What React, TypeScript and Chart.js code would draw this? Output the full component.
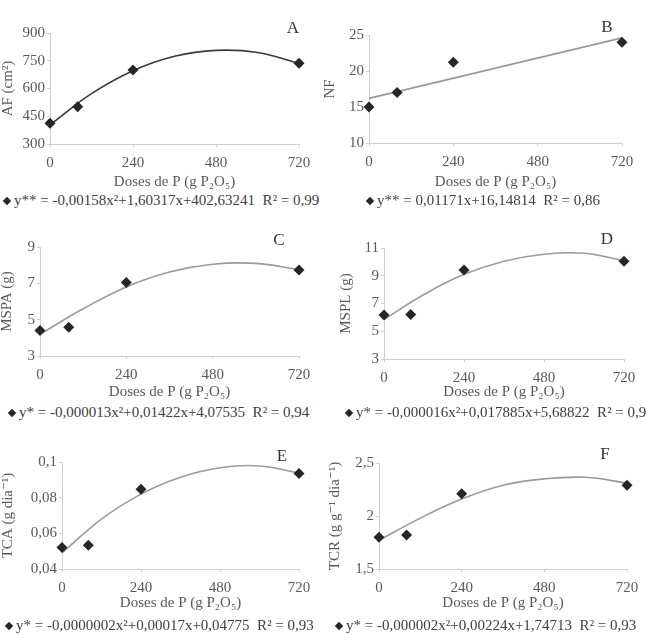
import React, { useEffect, useRef } from "react";
import { Chart, registerables } from "chart.js";
Chart.register(...registerables);

const FONT = "'Liberation Serif', 'DejaVu Serif', serif";
const TEXT = "#595959";
const AXIS = "#d0d0d0";
const MARK = "#262626";

const DOSES = [0, 80, 240, 720];
const X_TICKS = [0, 240, 480, 720];
const FIT_X = [0, 120, 240, 360, 480, 600, 720];
const LINE_X = [0, 720];

const AF = [412, 502, 700, 736];
const AF_FIT = [403, 572, 696, 774, 806, 795, 736];
const NF = [15.0, 17.0, 21.2, 24.0];
const NF_FIT = [16.2, 24.6];
const MSPA = [4.4, 4.58, 7.05, 7.73];
const MSPA_FIT = [4.2, 5.6, 6.8, 7.62, 8.05, 8.1, 7.75];
const MSPL = [6.17, 6.2, 9.41, 10.05];
const MSPL_FIT = [5.85, 7.65, 9.1, 10.05, 10.55, 10.62, 10.1];
const TCA = [0.052, 0.0533, 0.0847, 0.0935];
const TCA_FIT = [0.049, 0.068, 0.082, 0.0915, 0.0968, 0.0978, 0.0938];
const TCR = [1.8, 1.82, 2.21, 2.29];
const TCR_FIT = [1.77, 1.98, 2.16, 2.29, 2.35, 2.365, 2.31];

const Y_TITLES = ["AF (cm²)", "NF", "MSPA (g)", "MSPL (g)", "TCA (g dia⁻¹)", "TCR (g g⁻¹ dia⁻¹)"];
const X_TITLE = "Doses de P (g P₂O₅)";
const LETTERS = ["A", "B", "C", "D", "E", "F"];
const EQUATIONS = [
  "y** = -0,00158x²+1,60317x+402,63241  R² = 0,99",
  "y** = 0,01171x+16,14814  R² = 0,86",
  "y* = -0,000013x²+0,01422x+4,07535  R² = 0,94",
  "y* = -0,000016x²+0,017885x+5,68822  R² = 0,92",
  "y* = -0,0000002x²+0,00017x+0,04775  R² = 0,93",
  "y* = -0,000002x²+0,00224x+1,74713  R² = 0,93",
];

type Box = { x: number; y: number; w: number; h: number };
type Area = { l: number; t: number; r: number; b: number };
type Panel = {
  canvas: Box;
  plot: Area;
  yMin: number;
  yMax: number;
  yStep: number;
  yTitle: string;
  yTitleX: number;
  points: number[];
  fitX: number[];
  fit: number[];
  fitColor: string;
  letter: string;
  letterPos: { x: number; y: number };
  eq: string;
  eqPos: { x: number; y: number };
};

const PANELS: Panel[] = [
  {
    canvas: { x: 0, y: 0, w: 320, h: 191 }, plot: { l: 50, t: 33, r: 299, b: 144 },
    yMin: 300, yMax: 900, yStep: 150, yTitle: Y_TITLES[0], yTitleX: 8,
    points: AF, fitX: FIT_X, fit: AF_FIT, fitColor: "#3a3a3a",
    letter: LETTERS[0], letterPos: { x: 293, y: 28 }, eq: EQUATIONS[0], eqPos: { x: 2, y: 200 },
  },
  {
    canvas: { x: 320, y: 0, w: 327, h: 191 }, plot: { l: 369, t: 35, r: 622, b: 143 },
    yMin: 10, yMax: 25, yStep: 5, yTitle: Y_TITLES[1], yTitleX: 330,
    points: NF, fitX: LINE_X, fit: NF_FIT, fitColor: "#9a9a9a",
    letter: LETTERS[1], letterPos: { x: 607, y: 27 }, eq: EQUATIONS[1], eqPos: { x: 365, y: 200 },
  },
  {
    canvas: { x: 0, y: 210, w: 320, h: 191 }, plot: { l: 40, t: 247, r: 299, b: 356 },
    yMin: 3, yMax: 9, yStep: 2, yTitle: Y_TITLES[2], yTitleX: 7,
    points: MSPA, fitX: FIT_X, fit: MSPA_FIT, fitColor: "#9a9a9a",
    letter: LETTERS[2], letterPos: { x: 279, y: 240 }, eq: EQUATIONS[2], eqPos: { x: 7, y: 412 },
  },
  {
    canvas: { x: 320, y: 210, w: 327, h: 191 }, plot: { l: 384, t: 248, r: 624, b: 359 },
    yMin: 3, yMax: 11, yStep: 2, yTitle: Y_TITLES[3], yTitleX: 346,
    points: MSPL, fitX: FIT_X, fit: MSPL_FIT, fitColor: "#9a9a9a",
    letter: LETTERS[3], letterPos: { x: 607, y: 239 }, eq: EQUATIONS[3], eqPos: { x: 344, y: 412 },
  },
  {
    canvas: { x: 0, y: 420, w: 320, h: 192 }, plot: { l: 62, t: 462, r: 299, b: 569 },
    yMin: 0.04, yMax: 0.1, yStep: 0.02, yTitle: Y_TITLES[4], yTitleX: 8,
    points: TCA, fitX: FIT_X, fit: TCA_FIT, fitColor: "#9a9a9a",
    letter: LETTERS[4], letterPos: { x: 282, y: 456 }, eq: EQUATIONS[4], eqPos: { x: 4, y: 625 },
  },
  {
    canvas: { x: 320, y: 420, w: 327, h: 192 }, plot: { l: 379, t: 463, r: 627, b: 569 },
    yMin: 1.5, yMax: 2.5, yStep: 0.5, yTitle: Y_TITLES[5], yTitleX: 335,
    points: TCR, fitX: FIT_X, fit: TCR_FIT, fitColor: "#9a9a9a",
    letter: LETTERS[5], letterPos: { x: 605, y: 454 }, eq: EQUATIONS[5], eqPos: { x: 334, y: 625 },
  },
];

const fmt = (v: number) => Number(v.toFixed(4)).toString().replace(".", ",");

function PanelChart({ p }: { p: Panel }) {
  const ref = useRef<HTMLCanvasElement>(null);
  useEffect(() => {
    const c = p.canvas;
    const a = p.plot;
    const xLabelCenter = a.b + 19;
    const chart = new Chart(ref.current as HTMLCanvasElement, {
      type: "scatter",
      data: {
        datasets: [
          {
            data: p.points.map((y, i) => ({ x: DOSES[i], y })),
            pointStyle: "rectRot",
            pointRadius: 5.5,
            backgroundColor: MARK,
            borderColor: MARK,
            borderWidth: 0,
            showLine: false,
            clip: false,
            order: 0,
          },
          {
            data: p.fitX.map((x, i) => ({ x, y: p.fit[i] })),
            showLine: true,
            pointRadius: 0,
            borderColor: p.fitColor,
            borderWidth: 1.6,
            tension: 0.4,
            clip: false,
            order: 1,
          },
        ],
      } as any,
      options: {
        animation: false,
        responsive: false,
        devicePixelRatio: 1,
        events: [],
        layout: { padding: { top: a.t - c.y, right: c.x + c.w - a.r, bottom: 0, left: 0 } },
        plugins: { legend: { display: false }, tooltip: { enabled: false } },
        scales: {
          x: {
            type: "linear",
            min: 0,
            max: 720,
            afterBuildTicks: (s: any) => {
              s.ticks = X_TICKS.map((v) => ({ value: v }));
            },
            afterFit: (s: any) => {
              s.height = c.y + c.h - a.b;
            },
            ticks: {
              color: TEXT,
              font: { family: FONT, size: 15 },
              padding: xLabelCenter - a.b - 3 - 9,
              maxRotation: 0,
              callback: (v: any) => String(v),
            },
            grid: { drawOnChartArea: false, drawTicks: true, tickLength: 3, color: AXIS },
            border: { display: true, color: AXIS, width: 1 },
            title: {
              display: true,
              text: X_TITLE,
              color: TEXT,
              font: { family: FONT, size: 15 },
              padding: 0,
            },
          },
          y: {
            type: "linear",
            min: p.yMin,
            max: p.yMax,
            afterBuildTicks: (s: any) => {
              const t: any[] = [];
              const n = Math.round((p.yMax - p.yMin) / p.yStep);
              for (let i = 0; i <= n; i++) t.push({ value: p.yMin + i * p.yStep });
              s.ticks = t;
            },
            afterFit: (s: any) => {
              s.width = a.l - c.x;
            },
            ticks: {
              color: TEXT,
              font: { family: FONT, size: 15 },
              padding: 2,
              callback: (v: any) => fmt(Number(v)),
            },
            grid: { drawOnChartArea: false, drawTicks: true, tickLength: 3, color: AXIS },
            border: { display: true, color: AXIS, width: 1 },
            title: {
              display: true,
              text: p.yTitle,
              color: TEXT,
              font: { family: FONT, size: 15, lineHeight: 1 },
              padding: { top: p.yTitleX - c.x - 7.5, bottom: 0 },
            },
          },
        },
      } as any,
    });
    return () => chart.destroy();
  }, []);
  return (
    <canvas
      ref={ref}
      width={p.canvas.w}
      height={p.canvas.h}
      style={{ position: "absolute", left: p.canvas.x, top: p.canvas.y, width: p.canvas.w, height: p.canvas.h }}
    />
  );
}

export default function App() {
  return (
    <div
      style={{
        position: "absolute",
        left: 0,
        top: 0,
        width: 647,
        height: 635,
        overflow: "hidden",
        background: "#ffffff",
        fontFamily: FONT,
      }}
    >
      {PANELS.map((p, i) => (
        <React.Fragment key={i}>
          <PanelChart p={p} />
          <div
            style={{
              position: "absolute",
              left: p.letterPos.x - 10,
              top: p.letterPos.y - 10,
              width: 20,
              height: 20,
              lineHeight: "20px",
              textAlign: "center",
              fontSize: 17,
              color: "#333333",
            }}
          >
            {p.letter}
          </div>
          <div
            style={{
              position: "absolute",
              left: p.eqPos.x,
              top: p.eqPos.y - 9,
              height: 18,
              lineHeight: "18px",
              fontSize: 15,
              color: "#404040",
              whiteSpace: "pre",
            }}
          >
            <span
              style={{
                display: "inline-block",
                width: 6,
                height: 6,
                background: MARK,
                transform: "rotate(45deg)",
                margin: "0 4px 2px 2px",
                verticalAlign: "middle",
              }}
            />
            {p.eq}
          </div>
        </React.Fragment>
      ))}
    </div>
  );
}
